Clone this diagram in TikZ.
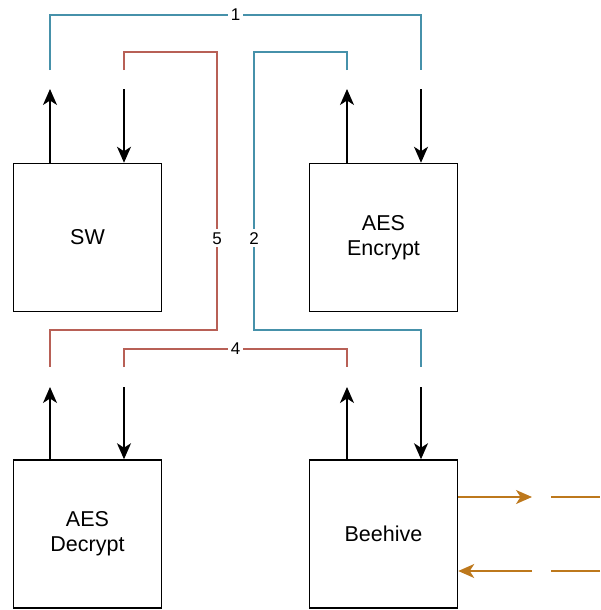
\documentclass[tikz,border=0pt]{standalone}
\usepackage{fontspec}
\setmainfont{Liberation Sans}
\usetikzlibrary{arrows.meta}
\definecolor{linkblue}{RGB}{70,145,170}
\definecolor{linkred}{RGB}{184,96,86}
\definecolor{linkorange}{RGB}{189,120,28}
\tikzset{
  block/.style={draw=black, line width=1.5pt, fill=white, minimum width=148pt,
    minimum height=148pt, inner sep=0pt, align=center,
    font=\fontsize{21.5}{25}\selectfont},
  port/.style={draw=black, line width=1.6pt,
    -{Stealth[length=16pt, width=14pt, inset=4.5pt]}},
  bluelink/.style={draw=linkblue, line width=1.6pt},
  redlink/.style={draw=linkred, line width=1.6pt},
  orangelink/.style={draw=linkorange, line width=1.6pt},
  orangearrow/.style={orangelink, -{Stealth[length=16pt, width=14pt, inset=4.5pt]}},
  lbl/.style={fill=white, inner sep=3pt, text=black,
    font=\fontsize{17}{19}\selectfont}
}
\begin{document}
\begin{tikzpicture}[x=1pt, y=-1pt]
\useasboundingbox (0,0) rectangle (600,610);

% functional blocks
\node[block] (sw)  at (87.5,237.5) {SW};
\node[block] (enc) at (383.5,237.5) {AES\\Encrypt};
\node[block] (dec) at (87.5,534) {AES\\Decrypt};
\node[block] (bee) at (383.5,534) {Beehive};

% port ends above each block
\coordinate (swO)  at (50,89);
\coordinate (swI)  at (124,89);
\coordinate (encO) at (347,89);
\coordinate (encI) at (421,89);
\coordinate (decO) at (50,387);
\coordinate (decI) at (124,387);
\coordinate (beeO) at (347,387);
\coordinate (beeI) at (421,387);

% outgoing and incoming ports
\draw[port] (sw.north -| swO) -- (swO);
\draw[port] (swI) -- (sw.north -| swI);
\draw[port] (enc.north -| encO) -- (encO);
\draw[port] (encI) -- (enc.north -| encI);
\draw[port] (dec.north -| decO) -- (decO);
\draw[port] (decI) -- (dec.north -| decI);
\draw[port] (bee.north -| beeO) -- (beeO);
\draw[port] (beeI) -- (bee.north -| beeI);

% link 1: SW -> AES Encrypt
\draw[bluelink] ([yshift=19pt]swO) -- (50,15) -- node[lbl] {1} (421,15) -- ([yshift=19pt]encI);
% link 2: AES Encrypt -> Beehive
\draw[bluelink] ([yshift=19pt]encO) -- (347,52) -- (254,52)
  -- node[lbl, pos=0.67] {2} (254,330) -- (421,330) -- ([yshift=20pt]beeI);
% link 5: AES Decrypt -> SW
\draw[redlink] ([yshift=19pt]swI) -- (124,52) -- (217,52)
  -- node[lbl, pos=0.67] {5} (217,330) -- (50,330) -- ([yshift=20pt]decO);
% link 4: Beehive -> AES Decrypt
\draw[redlink] ([yshift=20pt]decI) -- (124,349) -- node[lbl] {4} (347,349) -- ([yshift=20pt]beeO);

% external links of Beehive
\coordinate (outTip) at (532,497);
\coordinate (inTail) at (532,571);
\draw[orangearrow] (bee.east |- outTip) -- (outTip);
\draw[orangelink] (551,497) -- (600,497);
\draw[orangearrow] (inTail) -- (bee.east |- inTail);
\draw[orangelink] (600,571) -- (551,571);
\end{tikzpicture}
\end{document}
